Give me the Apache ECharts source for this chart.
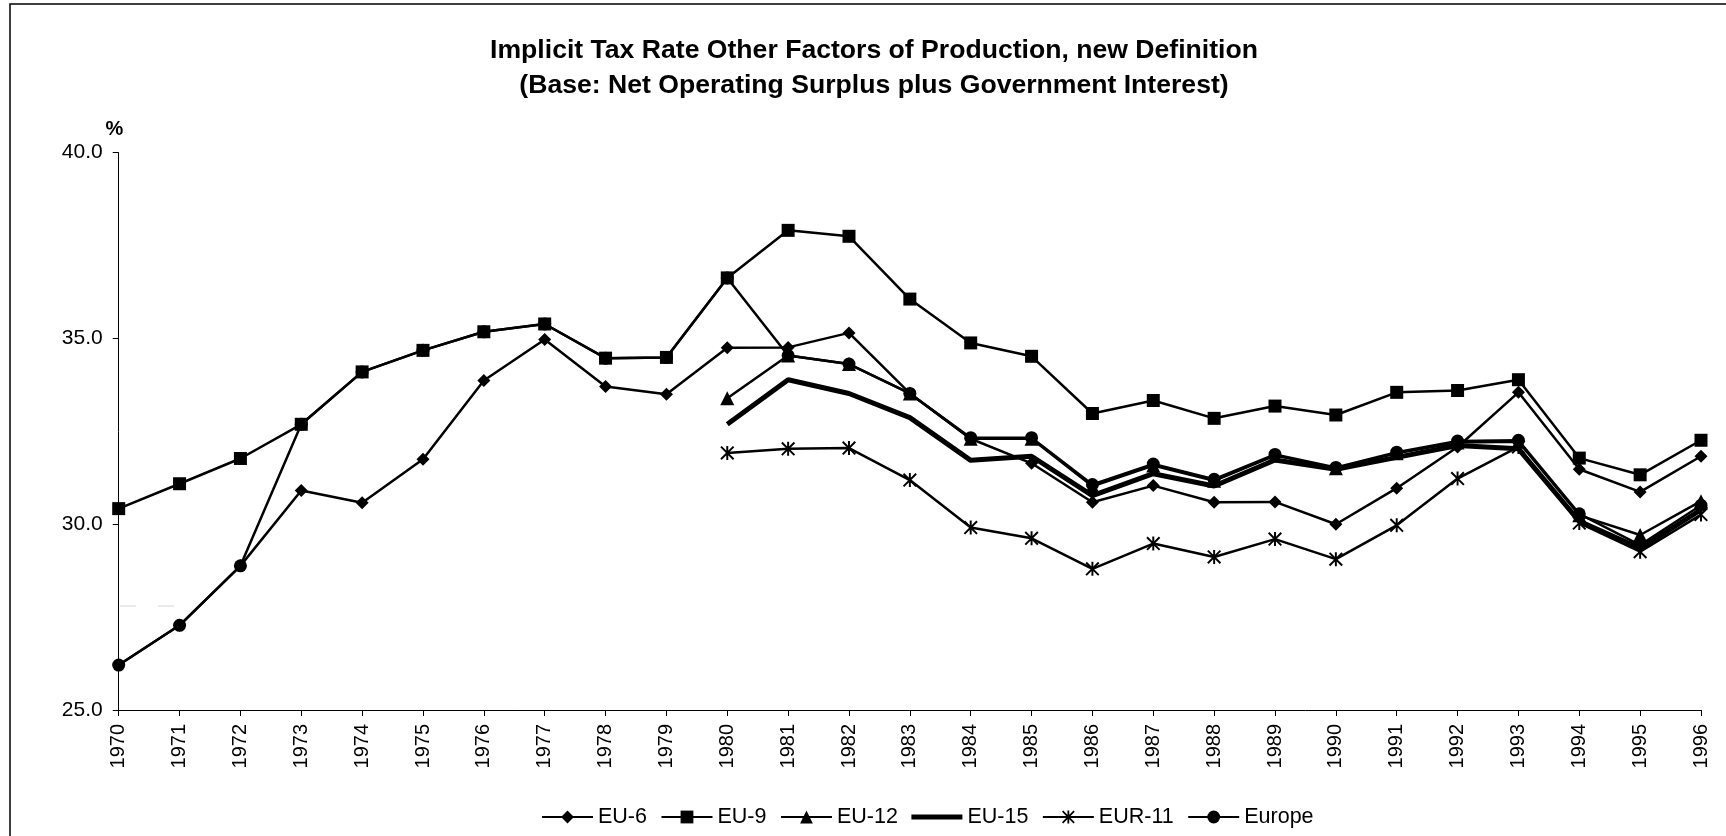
<!DOCTYPE html>
<html><head><meta charset="utf-8">
<script src="https://cdn.jsdelivr.net/npm/echarts@6/dist/echarts.min.js"></script>
<style>html,body{margin:0;padding:0;background:#fff}#c{width:1726px;height:836px}</style>
</head><body><div id="c"></div>
<script>
const years = ['1970','1971','1972','1973','1974','1975','1976','1977','1978','1979','1980','1981','1982','1983','1984','1985','1986','1987','1988','1989','1990','1991','1992','1993','1994','1995','1996'];
const yTicks = [25, 30, 35, 40];
const eu6 = [26.21, 27.28, 28.88, 30.91, 30.58, 31.75, 33.87, 34.97, 33.71, 33.50, 34.75, 34.76, 35.15, 33.52, 32.30, 31.64, 30.59, 31.04, 30.59, 30.60, 30.00, 30.97, 32.08, 33.55, 31.48, 30.87, 31.83];
const eu9 = [30.42, 31.09, 31.77, 32.69, 34.10, 34.68, 35.18, 35.39, 34.47, 34.49, 36.63, 37.91, 37.75, 36.06, 34.88, 34.52, 32.98, 33.33, 32.85, 33.18, 32.94, 33.55, 33.60, 33.89, 31.78, 31.33, 32.26];
const eu12 = [null, null, null, null, null, null, null, null, null, null, 33.39, 34.54, 34.31, 33.52, 32.30, 32.30, 31.02, 31.58, 31.17, 31.85, 31.51, 31.91, 32.20, 32.22, 30.24, 29.71, 30.62];
const eu15 = [null, null, null, null, null, null, null, null, null, null, 32.69, 33.89, 33.52, 32.87, 31.72, 31.83, 30.77, 31.36, 31.03, 31.73, 31.48, 31.80, 32.12, 32.03, 30.08, 29.35, 30.39];
const eur11 = [null, null, null, null, null, null, null, null, null, null, 31.92, 32.03, 32.05, 31.19, 29.91, 29.62, 28.80, 29.48, 29.12, 29.60, 29.06, 29.97, 31.23, 32.08, 30.03, 29.26, 30.26];
const europe = [26.21, 27.28, 28.88, 32.69, 34.10, 34.68, 35.18, 35.39, 34.47, 34.49, 36.63, 34.54, 34.31, 33.52, 32.33, 32.33, 31.07, 31.62, 31.21, 31.88, 31.53, 31.94, 32.24, 32.26, 30.28, 29.44, 30.51];

const STAR = 'path://M43 0L57 0L57 100L43 100Z M9.95 0.05L99.95 90.05L90.05 99.95L0.05 9.95Z M90.05 0.05L99.95 9.95L9.95 99.95L0.05 90.05Z';
const THICK = 'path://M0 0H102V10H0Z';
const FONT = 'Arial, "Liberation Sans", sans-serif';

function mk(name, data, symbol, size, width) {
  return {
    name: name, type: 'line', data: data,
    symbol: symbol, symbolSize: size, showSymbol: symbol !== 'none',
    connectNulls: false, animation: false,
    lineStyle: { color: '#000', width: width },
    itemStyle: { color: '#000', borderWidth: 0 },
    emphasis: { disabled: true }
  };
}

const chart = echarts.init(document.getElementById('c'), null, { renderer: 'canvas' });
chart.setOption({
  backgroundColor: '#fff',
  animation: false,
  textStyle: { fontFamily: FONT },
  grid: { left: 118.7, right: 25, top: 152.7, bottom: 126, containLabel: false },
  xAxis: {
    type: 'category', data: years, boundaryGap: false,
    axisLine: { lineStyle: { color: '#000', width: 1 } },
    axisTick: { show: true, inside: false, length: 6, interval: 0, lineStyle: { color: '#000' } },
    axisLabel: { rotate: 90, interval: 0, margin: 14, color: '#000', fontSize: 20, fontFamily: FONT },
    splitLine: { show: false }
  },
  yAxis: {
    type: 'value', min: yTicks[0], max: yTicks[yTicks.length - 1], interval: 5,
    axisLine: { show: true, lineStyle: { color: '#000', width: 1 } },
    axisTick: { show: true, length: 6, lineStyle: { color: '#000' } },
    axisLabel: { margin: 16, color: '#000', fontSize: 21, fontFamily: FONT, formatter: v => v.toFixed(1) },
    splitLine: { show: false }
  },
  legend: {
    left: 541, top: 806, orient: 'horizontal', padding: 0,
    itemWidth: 51, itemHeight: 16, itemGap: 13.5,
    textStyle: { fontSize: 21.5, color: '#000', fontFamily: FONT },
    data: ['EU-6', 'EU-9', 'EU-12', { name: 'EU-15', icon: THICK, itemStyle: { color: '#000' } }, 'EUR-11', 'Europe']
  },
  graphic: [
    { type: 'rect', shape: { x: 10, y: 4, width: 1800, height: 900 }, style: { fill: 'none', stroke: '#000', lineWidth: 1.5 }, silent: true },
    { type: 'line', shape: { x1: 120, y1: 606, x2: 186, y2: 606 }, style: { stroke: '#e4e4e4', lineWidth: 1.5, lineDash: [16, 22] }, silent: true },
    { type: 'text', x: 874, y: 50.5, style: { text: 'Implicit Tax Rate Other Factors of Production, new Definition', font: 'bold 26.6px ' + FONT, fill: '#000', align: 'center', verticalAlign: 'middle' } },
    { type: 'text', x: 874, y: 85.5, style: { text: '(Base: Net Operating Surplus plus Government Interest)', font: 'bold 26.6px ' + FONT, fill: '#000', align: 'center', verticalAlign: 'middle' } },
    { type: 'text', x: 114.3, y: 129, style: { text: '%', font: 'bold 20px ' + FONT, fill: '#000', align: 'center', verticalAlign: 'middle' } }
  ],
  series: [
    mk('EU-6', eu6, 'diamond', 13, 2.5),
    mk('EU-9', eu9, 'rect', 13, 2.5),
    mk('EU-12', eu12, 'triangle', 14, 2.5),
    mk('EU-15', eu15, 'none', 0, 5),
    mk('EUR-11', eur11, STAR, 14, 2.5),
    mk('Europe', europe, 'circle', 13, 2.5)
  ]
});
</script></body></html>
